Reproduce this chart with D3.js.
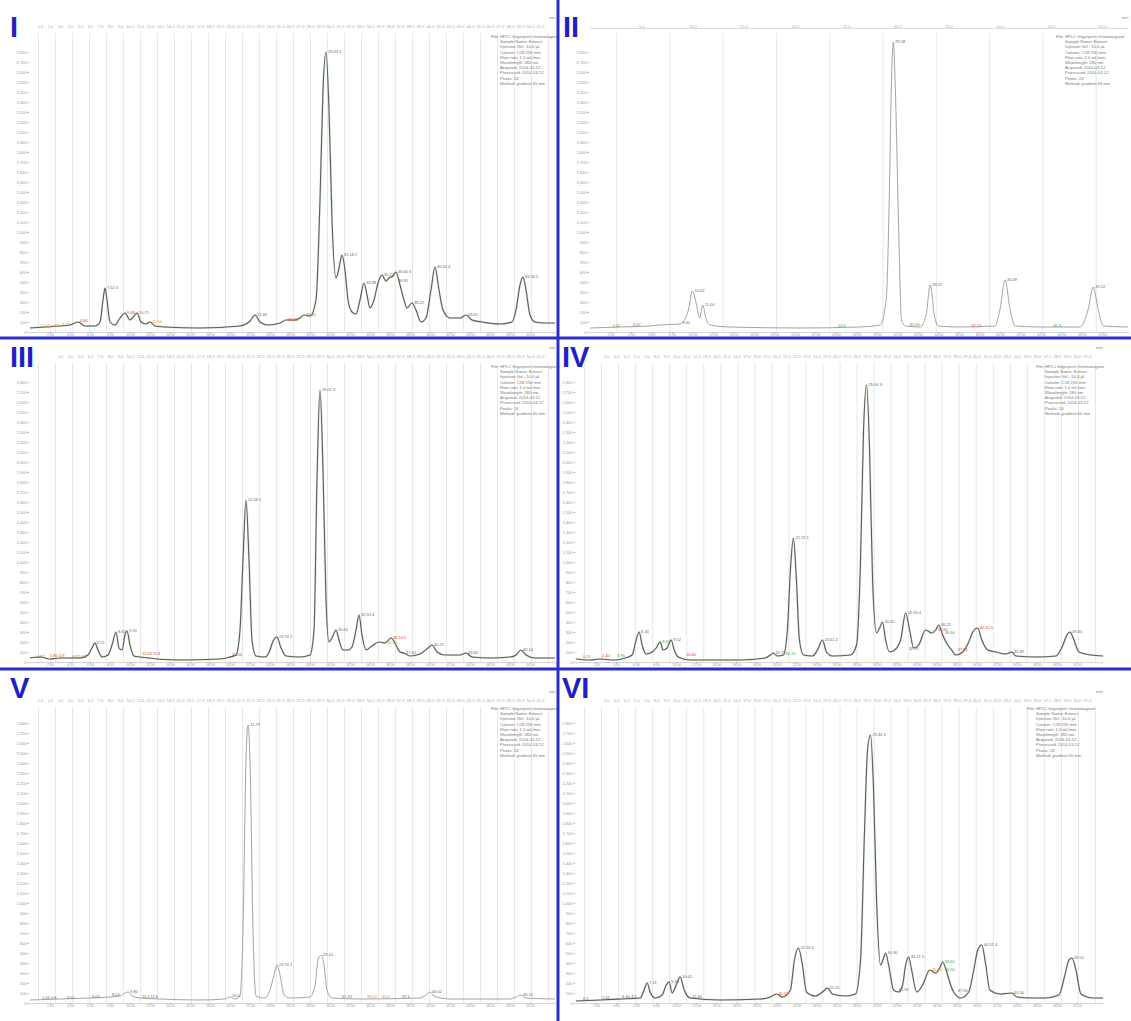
<!DOCTYPE html>
<html>
<head>
<meta charset="utf-8">
<script src="https://cdn.jsdelivr.net/npm/d3@7"></script>
<style>
body { margin: 0; background: #fff; }
svg { display: block; font-family: "Liberation Sans", Arial, sans-serif; }
</style>
</head>
<body>
<div id="chart"></div>
<script>
const width = 1131
const height = 1021

// time axis (min) and intensity ticks (mAU)
const timeDomain = [0, 52.5]
const bottomTicks = d3.range(2, 52, 2)
const topTicks = d3.range(1, 52, 1)
const yTicks = d3.range(0, 2900, 100)

// traces: [retention time, intensity]
const traceI = [[0,40],[1.5,50],[3,60],[4,70],[4.8,100],[5.5,60],[6.5,60],[7,100],[7.3,320],[7.5,440],[7.7,320],[8,100],[8.5,70],[9,140],[9.5,190],[10,120],[10.4,160],[10.7,190],[11.1,100],[11.6,80],[12,100],[12.5,60],[13.5,50],[17,40],[21,60],[22,110],[22.5,170],[23,100],[23.8,70],[25,90],[25.6,120],[26.5,120],[27,140],[27.4,170],[28,160],[28.6,320],[29,1320],[29.3,2420],[29.6,2800],[29.9,2220],[30.2,1120],[30.6,540],[30.9,640],[31.2,770],[31.5,620],[31.8,320],[32.2,200],[32.6,180],[33,320],[33.4,490],[33.7,370],[34,240],[34.4,320],[34.8,490],[35.2,570],[35.6,510],[35.9,540],[36.3,560],[36.6,600],[37,470],[37.4,320],[37.7,240],[38.2,290],[38.6,220],[39.1,100],[39.6,140],[40.1,420],[40.5,650],[40.9,420],[41.3,220],[42,140],[43,140],[43.6,170],[44.2,120],[45.2,100],[47,80],[48.2,100],[48.6,220],[49,470],[49.3,550],[49.6,420],[50,170],[50.5,100],[51.5,90],[52.5,90]]
const traceII = [[0,40],[2.9,50],[5.9,60],[6.8,70],[8.8,80],[9.6,220],[10.0,410],[10.4,270],[10.7,140],[11.0,270],[11.3,140],[11.7,70],[13.7,50],[20.5,40],[26.3,50],[28.3,70],[28.9,320],[29.2,1320],[29.4,2420],[29.6,2900],[29.8,2420],[30.1,1120],[30.4,120],[30.8,60],[32.2,50],[32.8,170],[33.2,470],[33.6,170],[34.0,60],[36.1,50],[39.5,60],[40.0,220],[40.5,520],[41.0,220],[41.5,60],[43.9,50],[47.8,50],[48.6,220],[49.1,450],[49.6,220],[50.1,60],[52.5,50]]
const traceIII = [[0,40],[1,50],[2,30],[3,40],[5,40],[5.8,70],[6.2,140],[6.5,190],[6.8,120],[7.2,50],[7.8,70],[8.2,170],[8.6,300],[8.9,140],[9.2,120],[9.5,270],[9.7,310],[10,170],[10.4,60],[11,50],[15,20],[19,30],[20,50],[20.6,70],[21,320],[21.3,1020],[21.6,1620],[21.9,1020],[22.2,220],[22.6,60],[23.5,50],[24,120],[24.3,210],[24.7,250],[25.1,140],[25.6,60],[27,50],[28,70],[28.4,320],[28.7,1820],[29,2720],[29.3,1920],[29.6,620],[29.9,200],[30.2,240],[30.6,320],[30.9,220],[31.3,120],[31.8,120],[32.2,150],[32.6,320],[32.9,470],[33.2,270],[33.6,120],[34.2,160],[34.9,200],[35.5,190],[36.1,240],[36.6,170],[37,100],[37.4,90],[38,60],[39,80],[39.8,140],[40.2,170],[40.7,100],[41.5,70],[43,70],[43.6,90],[44.2,50],[46,40],[48,50],[48.6,70],[49.1,120],[49.6,70],[50.5,40],[52.5,40]]
const traceIV = [[0,30],[1.4,20],[2.4,30],[3.9,20],[4.9,40],[5.6,70],[6,220],[6.3,300],[6.6,170],[7,80],[7.6,100],[8,140],[8.4,200],[8.7,120],[9.1,140],[9.5,220],[9.8,120],[10.2,50],[11.4,20],[16.4,20],[18.9,40],[19.4,70],[19.7,90],[20.1,60],[20.7,70],[21.1,320],[21.4,920],[21.7,1240],[22,820],[22.3,220],[22.7,70],[23.6,60],[24.1,120],[24.6,220],[25,100],[25.6,60],[27.4,70],[28,170],[28.4,1020],[28.7,2320],[29,2770],[29.3,2120],[29.6,820],[30,290],[30.3,340],[30.6,400],[30.9,220],[31.3,100],[31.8,120],[32.4,220],[32.9,490],[33.3,320],[33.7,140],[34.2,170],[34.9,320],[35.5,290],[35.9,320],[36.2,370],[36.6,270],[37.1,170],[37.5,120],[37.9,70],[38.6,100],[39.2,200],[39.6,300],[40.1,340],[40.5,220],[41.1,120],[41.9,100],[42.9,80],[43.5,100],[43.9,60],[46,50],[47.9,60],[48.6,170],[49,270],[49.3,300],[49.7,220],[50.2,100],[51.4,70],[52.6,60]]
const traceV = [[0,30],[3,40],[6,50],[8,60],[9,70],[9.5,100],[9.8,110],[10.2,70],[11,50],[13,40],[17,30],[19.5,40],[20,60],[20.5,40],[21,70],[21.3,730],[21.6,2430],[21.8,2780],[22,2430],[22.3,730],[22.6,70],[23.5,50],[24,130],[24.4,280],[24.7,380],[25,280],[25.4,80],[26,50],[28,60],[28.5,180],[28.8,430],[29.1,480],[29.4,380],[29.7,130],[30.2,50],[33,40],[39,50],[39.6,80],[40,110],[40.4,70],[42,40],[48,40],[48.6,60],[49.1,80],[49.6,50],[52.5,40]]
const traceVI = [[0,20],[2.4,30],[4.4,40],[6.4,50],[6.8,130],[7.1,200],[7.4,110],[7.9,50],[8.6,80],[9,180],[9.3,210],[9.6,100],[10,180],[10.4,260],[10.8,130],[11.4,50],[14.4,30],[18.4,40],[19.4,60],[20,90],[20.6,60],[21.4,130],[21.8,430],[22.2,550],[22.6,380],[23,110],[23.9,70],[24.6,110],[25.1,150],[25.6,90],[26.9,70],[27.9,90],[28.4,430],[28.8,1730],[29.1,2530],[29.4,2680],[29.7,2130],[30,1030],[30.4,380],[30.7,450],[30.9,500],[31.2,380],[31.7,130],[32.2,110],[32.6,180],[32.9,380],[33.2,460],[33.5,330],[34,110],[34.6,180],[35.3,330],[35.9,300],[36.3,350],[36.6,410],[37,310],[37.5,150],[37.9,80],[38.4,50],[39.2,110],[39.7,330],[40.1,530],[40.5,580],[40.9,380],[41.3,130],[42.4,90],[43.5,100],[44,60],[45.4,50],[46.8,50],[48.2,80],[48.8,280],[49.2,430],[49.5,450],[49.9,330],[50.4,90],[51.6,50],[52.6,50]]

// peak labels: [time, intensity, text, kind]
const labelsI = [[29.6,2800,"29.63 1","g"],[31.2,770,"31.18 2","g"],[33.4,490,"33.38","g"],[35.2,570,"35.21","g"],[36.6,600,"36.60 3","g"],[36.6,510,"36.95","g"],[38.2,290,"38.22","g"],[40.5,650,"40.52 4","g"],[43.6,170,"43.61","g"],[49.3,550,"49.30 5","g"],[7.5,440,"7.52 6","g"],[9.5,190,"9.48","r"],[10.7,190,"10.71","r"],[12,100,"12.04","o"],[22.5,170,"22.49","g"],[25.6,120,"25.60","r"],[27.4,170,"27.41","r"],[1.0,60,"1.02 0.81","o"],[3.0,70,"3.05","o"],[4.8,110,"4.84","r"]]
const labelsII = [[10.0,410,"10.02","g"],[11.0,270,"11.04","g"],[29.6,2900,"29.58","g"],[33.2,470,"33.21","g"],[40.5,520,"40.49","g"],[49.1,450,"49.12","g"],[2,60,"2.11","n"],[4,70,"4.07","r"],[8.8,90,"8.80","n"],[24,60,"24.0","n"],[31,70,"31.05","r"],[37,60,"37.12","r"],[45,60,"45.3","n"]]
const labelsIII = [[6.5,190,"6.51","g"],[8.6,300,"8.62","g"],[9.7,310,"9.70","g"],[21.6,1620,"21.58 1","g"],[24.7,250,"24.70 2","g"],[29,2720,"29.01 3","g"],[30.6,320,"30.62","g"],[32.9,470,"32.93 4","g"],[35.5,190,"35.52","o"],[36.1,240,"36.10 5","r"],[37.4,90,"37.40","r"],[40.2,170,"40.21","g"],[43.6,90,"43.60","g"],[49.1,120,"49.10","g"],[0.5,50,"0.52","r"],[1.8,60,"1.80 0.9","r"],[4,50,"4.02 4.6","r"],[11,80,"11.03 11.8","r"],[20,70,"20.04","r"]]
const labelsIV = [[6.3,300,"6.30","g"],[8.4,200,"8.40","n"],[9.5,220,"9.52","g"],[21.7,1240,"21.72 1","g"],[24.6,220,"24.61 2","g"],[29,2770,"29.00 3","g"],[30.6,400,"30.62","g"],[32.9,490,"32.90 4","g"],[35.9,320,"35.90","r"],[36.2,370,"36.22","g"],[36.6,290,"36.64","n"],[37.9,120,"37.91","r"],[40.1,340,"40.10 5","r"],[43.5,100,"43.49","g"],[49.3,300,"49.30","g"],[33,130,"32.95","g"],[0.5,50,"0.51","r"],[2.4,60,"2.40","r"],[3.9,60,"3.95","n"],[10.8,70,"10.80","r"],[19.7,90,"19.70","r"],[20.7,80,"20.70","n"]]
const labelsV = [[21.8,2780,"21.79","g"],[24.7,380,"24.70 1","g"],[29.1,480,"29.10","g"],[9.8,110,"9.80","g"],[8,80,"8.01","g"],[20,70,"20.0","g"],[40,110,"40.02","g"],[49.1,80,"49.10","g"],[1,50,"1.04 0.8","g"],[3.5,50,"3.51","g"],[6,60,"6.02","g"],[11,60,"11.0 11.6","g"],[31,60,"31.20","r"],[33.5,60,"33.52","o"],[35,60,"35.0","o"],[37,60,"37.1","g"]]
const labelsVI = [[7.1,200,"7.11","g"],[9.3,210,"9.30","g"],[10.4,260,"10.41","g"],[22.2,550,"22.20 1","g"],[25.1,150,"25.10","g"],[29.4,2680,"29.40 2","g"],[30.9,500,"30.90","g"],[33.2,460,"33.21 3","g"],[35.3,330,"35.30","o"],[36.6,410,"36.62","n"],[36.6,330,"36.90","n"],[37.9,120,"37.90","g"],[40.5,580,"40.52 4","g"],[43.5,100,"43.50","g"],[49.5,450,"49.51","g"],[20,90,"20.02","r"],[0.5,40,"0.5","g"],[2.4,50,"2.41","g"],[4.4,60,"4.40 4.9","g"],[11.4,60,"11.40","g"],[32,130,"31.95","g"]]

const legendText = ["File: HPLC fingerprint chromatogram", "Sample Name: Extract", "Injection Vol.: 10.0 µL", "Column: C18 250 mm", "Flow rate: 1.0 mL/min", "Wavelength: 280 nm", "Acquired: 2014-03-12", "Processed: 2014-03-12", "Peaks: 24", "Method: gradient 60 min"]

const labelColors = {g: "#666", r: "#d8401c", o: "#e8881c", n: "#3aa33a"}

// layout of the six panels
const panels = [
    {name: "I",   trace: traceI,   labels: labelsI,   left: 30,  right: 555,  base: 332,  topRow: 28,  tagX: 10,  tagY: 37,  legX: 491,  legY: 38,  light: false, gridStep: 1.7},
    {name: "II",  trace: traceII,  labels: labelsII,  left: 590, right: 1128, base: 332,  topRow: 28,  tagX: 563, tagY: 37,  legX: 1056, legY: 38,  light: true,  gridStep: 5.2},
    {name: "III", trace: traceIII, labels: labelsIII, left: 30,  right: 555,  base: 662,  topRow: 358, tagX: 10,  tagY: 367, legX: 491,  legY: 368, light: false, gridStep: 1.7},
    {name: "IV",  trace: traceIV,  labels: labelsIV,  left: 576, right: 1102, base: 662,  topRow: 358, tagX: 562, tagY: 367, legX: 1036, legY: 368, light: false, gridStep: 1.7},
    {name: "V",   trace: traceV,   labels: labelsV,   left: 30,  right: 555,  base: 1003, topRow: 702, tagX: 10,  tagY: 698, legX: 491,  legY: 710, light: true,  gridStep: 1.7},
    {name: "VI",  trace: traceVI,  labels: labelsVI,  left: 576, right: 1102, base: 1003, topRow: 702, tagX: 562, tagY: 698, legX: 1027, legY: 710, light: false, gridStep: 1.7}
]

const svg = d3.select("#chart").append("svg").attr("width", width).attr("height", height)
svg.append("rect").attr("width", width).attr("height", height).attr("fill", "#fff")

panels.forEach(drawPanel)

// blue separators
svg.append("line").attr("x1", 558).attr("x2", 558).attr("y1", 0).attr("y2", height)
    .attr("stroke", "#2a2fc8").attr("stroke-width", 3)
svg.selectAll("line.sep").data([338, 669]).join("line").attr("class", "sep")
    .attr("x1", 0).attr("x2", width).attr("y1", d => d).attr("y2", d => d)
    .attr("stroke", "#2a2fc8").attr("stroke-width", 3)

function drawPanel(p) {
    const g = svg.append("g")
    const x = d3.scaleLinear().domain(timeDomain).range([p.left, p.right])
    const y = d3.scaleLinear().domain([0, 2800]).range([p.base, p.base - 280])

    // vertical grid
    g.selectAll("line.grid").data(d3.range(p.gridStep / 2, 52.5, p.gridStep)).join("line")
        .attr("class", "grid")
        .attr("x1", d => x(d)).attr("x2", d => x(d))
        .attr("y1", p.topRow + 5).attr("y2", p.base)
        .attr("stroke", "#e2e2e2").attr("stroke-width", 0.8)

    // top time row (kept clear of the panel tag)
    const tagEnd = p.tagX + p.name.length * 13 + 10
    const topVals = (p.name == "II" ? d3.range(5, 52, 5) : topTicks).filter(t => x(t) > tagEnd)
    const topAxis = g.append("g").attr("transform", `translate(0,${p.topRow})`)
        .call(d3.axisTop(x).tickValues(topVals).tickSize(0).tickPadding(0).tickFormat(d3.format(".1f")))
    topAxis.select(".domain").attr("stroke", p.name == "II" ? "#ddd" : "none")
    topAxis.selectAll("text").attr("font-size", 4).attr("fill", "#aaa")
    g.append("text").attr("x", p.right - 6).attr("y", p.topRow - 9)
        .attr("font-size", 4).attr("fill", "#888").text("min")

    // intensity axis
    const yAxis = g.append("g").attr("transform", `translate(${p.left - 1},0)`)
        .call(d3.axisLeft(y).tickValues(yTicks).tickSize(1.5).tickPadding(1))
    yAxis.select(".domain").attr("stroke", "none")
    yAxis.selectAll("line").attr("stroke", "#aaa")
    yAxis.selectAll("text").attr("font-size", 4).attr("fill", "#999")

    // time axis at the bottom
    const xAxis = g.append("g").attr("transform", `translate(0,${p.base})`)
        .call(d3.axisBottom(x).tickValues(bottomTicks).tickSize(1.5).tickPadding(0.5).tickFormat(d3.format(".2f")))
    xAxis.select(".domain").attr("stroke", "#bbb").attr("stroke-width", 0.6)
    xAxis.selectAll("line").attr("stroke", "#aaa")
    xAxis.selectAll("text").attr("font-size", 3.5).attr("fill", "#999")

    // chromatogram trace
    const line = d3.line().x(d => x(d[0])).y(d => y(d[1])).curve(d3.curveMonotoneX)
    if (!p.light) {
        g.append("path").datum(p.trace).attr("d", line).attr("fill", "none")
            .attr("stroke", "#b9d6b9").attr("stroke-width", 2.2).attr("stroke-opacity", 0.45)
    }
    g.append("path").datum(p.trace).attr("d", line).attr("fill", "none")
        .attr("stroke", p.light ? "#9a9a9a" : "#5a5a5a")
        .attr("stroke-width", p.light ? 0.9 : 1.1)

    // peak labels
    g.selectAll("text.peak").data(p.labels).join("text").attr("class", "peak")
        .attr("x", d => x(d[0]) + 2)
        .attr("y", d => y(d[1]) + 1)
        .attr("font-size", 4)
        .attr("fill", d => labelColors[d[3]])
        .text(d => d[2])

    // info box
    g.selectAll("text.legend").data(legendText).join("text").attr("class", "legend")
        .attr("x", (d, i) => p.legX + (i == 0 ? 0 : 9))
        .attr("y", (d, i) => p.legY + i * 5.2)
        .attr("font-size", 4.2)
        .attr("fill", "#777")
        .text(d => d)

    // panel tag
    g.append("text").attr("x", p.tagX).attr("y", p.tagY)
        .attr("font-size", 29).attr("font-weight", "bold").attr("fill", "#1f1fc4")
        .text(p.name)
}
</script>
</body>
</html>
